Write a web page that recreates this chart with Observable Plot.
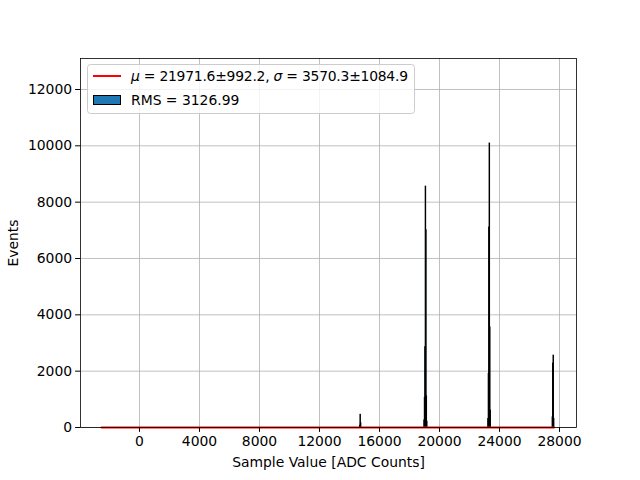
<!DOCTYPE html>
<html>
<head>
<meta charset="utf-8">
<script src="https://cdn.jsdelivr.net/npm/d3@7"></script>
<script src="https://cdn.jsdelivr.net/npm/@observablehq/plot@0.6"></script>
<style>
  body { margin: 0; background: #fff; }
  #chart { width: 640px; height: 480px; }
</style>
</head>
<body>
<div id="chart"></div>
<script>
// Histogram bin left edges (ADC counts) and counts
const binWidth = 30;
const binStarts = [
  14700, 14730, 14760,
  18990, 19020, 19050, 19080, 19110, 19140, 19170,
  23250, 23280, 23310, 23340, 23370, 23400,
  27540, 27570, 27600, 27630
];
const binCounts = [
  60, 450, 150,
  250, 1050, 2850, 8550, 7000, 1100, 200,
  300, 1900, 7100, 10080, 3550, 600,
  355, 2270, 2550, 300
];
// Gaussian fit curve (essentially zero over range)
const fitX = [-2530, 27630];
const fitY = [0, 0];
const xTicks = [0, 4000, 8000, 12000, 16000, 20000, 24000, 28000];
const yTicks = [0, 2000, 4000, 6000, 8000, 10000, 12000];
const legendFit = " = 21971.6±992.2, ";
const legendFit2 = " = 3570.3±1084.9";
const legendRms = "RMS = 3126.99";

const bins = binStarts.map((s, i) => ({x1: s, x2: s + binWidth, y: binCounts[i]}));
const fit = fitX.map((x, i) => ({x, y: fitY[i]}));

const W = 640, H = 480;
const mL = 80, mR = 64, mT = 58, mB = 53;

const chart = Plot.plot({
  width: W, height: H,
  marginLeft: mL, marginRight: mR, marginTop: mT, marginBottom: mB,
  style: {fontFamily: "DejaVu Sans", fontSize: "13.9px", color: "#000", background: "#fff"},
  x: {domain: [-3933, 29133]},
  y: {domain: [0, 13100]},
  marks: [
    Plot.gridX(xTicks, {stroke: "#b0b0b0", strokeOpacity: 1, strokeWidth: 0.8}),
    Plot.gridY(yTicks, {stroke: "#b0b0b0", strokeOpacity: 1, strokeWidth: 0.8}),
    Plot.rectY(bins, {x1: "x1", x2: "x2", y: "y", fill: "#1f77b4", stroke: "#000", strokeWidth: 1}),
    Plot.line(fit, {x: "x", y: "y", stroke: "red", strokeWidth: 2}),
    Plot.frame({stroke: "#000", strokeWidth: 0.8}),
    Plot.axisX(xTicks, {tickSize: 4.9, tickPadding: 3.5, tickFormat: d => String(d), label: "Sample Value [ADC Counts]", labelAnchor: "center", labelOffset: 39, labelArrow: "none"}),
    Plot.axisY(yTicks, {tickSize: 4.9, tickPadding: 3.5, tickFormat: d => String(d), label: "Events", labelAnchor: "center", labelOffset: 72, labelArrow: "none"})
  ]
});
document.getElementById("chart").appendChild(chart);

// Legend
const svg = d3.select(chart);
const g = svg.append("g").attr("font-family", "DejaVu Sans").attr("font-size", "13.9px")
  .attr("text-anchor", "start");
g.append("rect").attr("x", 87.5).attr("y", 64.5).attr("width", 327).attr("height", 49)
  .attr("rx", 3).attr("fill", "#fff").attr("fill-opacity", 0.8)
  .attr("stroke", "#cccccc").attr("stroke-width", 1);
g.append("line").attr("x1", 93).attr("x2", 121).attr("y1", 76).attr("y2", 76)
  .attr("stroke", "red").attr("stroke-width", 2);
const t1 = g.append("text").attr("x", 131).attr("y", 81).attr("text-anchor", "start")
  .style("white-space", "pre").attr("xml:space", "preserve")
  .attr("textLength", 277).attr("lengthAdjust", "spacing");
t1.append("tspan").attr("font-style", "italic").text("μ");
t1.append("tspan").text(legendFit);
t1.append("tspan").attr("font-style", "italic").text("σ");
t1.append("tspan").text(legendFit2);
g.append("rect").attr("x", 93.5).attr("y", 95.5).attr("width", 27).attr("height", 9)
  .attr("fill", "#1f77b4").attr("stroke", "#000").attr("stroke-width", 1);
g.append("text").attr("x", 131).attr("y", 105).attr("text-anchor", "start").text(legendRms);
</script>
</body>
</html>
